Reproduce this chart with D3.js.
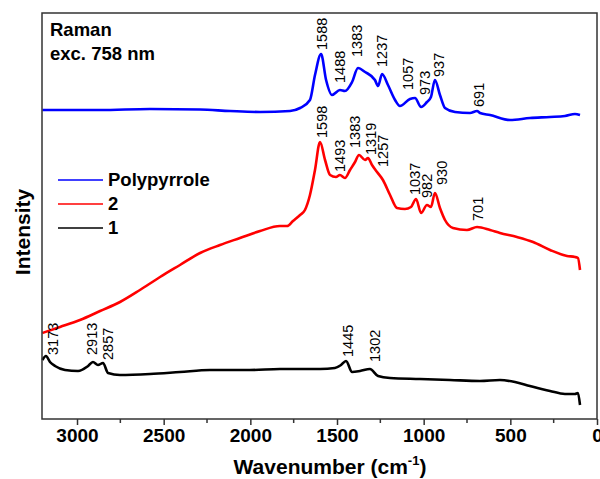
<!DOCTYPE html>
<html>
<head>
<meta charset="utf-8">
<script src="https://cdn.jsdelivr.net/npm/d3@7"></script>
<style>
  body { margin: 0; background: #fff; }
  text { font-family: Arial, "Liberation Sans", sans-serif; }
</style>
</head>
<body>
<svg id="chart" width="600" height="479"></svg>
<script>
// Spectra: [wavenumber cm-1, intensity (a.u.)]
var polypyrrole = [
  [3200,309],[2867,309],[2579,310],[2290,309.5],[2117,308],[1944,307],[1771,308],
  [1713,311],[1656,319],[1627,344],[1592,365],[1563,339],[1529,324],[1483,329],
  [1454,328],[1413,337],[1379,351],[1338,347],[1281,339],[1263,333],[1240,345],
  [1206,334],[1165,319],[1137,313],[1079,320],[1050,321],[1015,312],[981,317],
  [958,322],[935,339],[906,324],[877,311],[819,307],[733,306],[692,308],[675,306],
  [617,304],[502,299],[387,301],[271,302],[185,303],[127,305],[98,304]
];
var sample2 = [
  [3200,86],[3098,92],[2983,99],[2867,108],[2752,117],[2637,129],[2521,142],
  [2406,154],[2290,166],[2175,174],[2060,181],[1944,188],[1829,193],[1788,193],
  [1754,198],[1713,204],[1685,209],[1656,224],[1627,249],[1598,277],[1569,259],
  [1540,244],[1506,242],[1483,244],[1454,241],[1425,249],[1396,257],[1373,264],
  [1338,259],[1321,261],[1298,254],[1269,247],[1235,239],[1194,224],[1154,211],
  [1108,210],[1073,212],[1044,220],[1015,206],[981,214],[958,212],[935,226],
  [906,211],[877,199],[831,191],[750,189],[692,192],[617,189],[560,186],[462,182],
  [369,177],[271,169],[173,163],[127,162],[110,161],[98,149]
];
var sample1 = [
  [3200,59],[3179,63],[3156,57],[3127,53],[3069,49],[2994,48],[2936,53],[2908,57],
  [2879,54],[2850,56],[2821,46],[2752,44],[2579,45],[2406,47],[2233,49],[2002,49],
  [1829,50],[1598,50],[1512,51],[1477,54],[1448,58],[1413,47],[1367,48],[1310,50],
  [1263,43],[1194,41],[1021,40],[848,39],[675,38],[560,39],[473,37],[387,33],
  [271,28],[185,25],[127,25],[110,26],[98,14]
];

// Peak labels: [text, wavenumber where label sits, intensity of label foot]
var peaksBlue = [
  ["1588",1558,369],["1488",1454,336],["1383",1356,362],["1237",1211,352],
  ["1057",1062,329],["973",963,324],["937",883,342],["691",652,312]
];
var peaksRed = [
  ["1598",1558,281],["1493",1454,247],["1383",1367,271],["1319",1275,264],
  ["1257",1206,252],["1037",1021,224],["982",952,221],["930",865,234],["701",658,198]
];
var peaksBlack = [
  ["3173",3110,64],["2913",2885,64],["2857",2792,59],["1445",1408,62],["1302",1252,57]
];

var seriesNames = ["Polypyrrole", "2", "1"];
var seriesColors = ["#0000ff", "#ff0000", "#000000"];
var xTicks = [3000, 2500, 2000, 1500, 1000, 500, 0];
var xMinorTicks = [2750, 2250, 1750, 1250, 750, 250];

var margin = {left: 42, top: 13, right: 3, bottom: 60};
var W = 600, H = 479;

var svg = d3.select('#chart');
var x = d3.scaleLinear().domain([3202, 0]).range([margin.left, W - margin.right]);
var y = d3.scaleLinear().domain([0, 406]).range([H - margin.bottom, margin.top]);

var line = d3.line()
  .x(function(d){ return x(d[0]); })
  .y(function(d){ return y(d[1]); })
  .curve(d3.curveMonotoneX);

var plot = svg.append('g');
[polypyrrole, sample2, sample1].forEach(function(s, i){
  plot.append('path')
    .datum(s)
    .attr('d', line)
    .attr('fill', 'none')
    .attr('stroke', seriesColors[i])
    .attr('stroke-width', 2.6)
    .attr('stroke-linejoin', 'round');
});

// peak labels, rotated
[peaksBlue, peaksRed, peaksBlack].forEach(function(p){
  svg.append('g').selectAll('text')
    .data(p)
    .enter()
    .append('text')
    .text(function(d){ return d[0]; })
    .attr('transform', function(d){
      return 'translate(' + x(d[1]) + ',' + y(d[2]) + ') rotate(-90)';
    })
    .attr('font-size', 14.5)
    .attr('fill', '#000');
});

// frame
svg.append('rect')
  .attr('x', margin.left).attr('y', margin.top)
  .attr('width', W - margin.left - margin.right)
  .attr('height', H - margin.top - margin.bottom)
  .attr('fill', 'none')
  .attr('stroke', '#333')
  .attr('stroke-width', 1.5);

// bottom axis
var xAxis = d3.axisBottom(x)
  .tickValues(xTicks)
  .tickSize(6)
  .tickPadding(4)
  .tickFormat(d3.format('d'));
var gx = svg.append('g')
  .attr('transform', 'translate(0,' + (H - margin.bottom) + ')')
  .call(xAxis);
gx.select('.domain').remove();
gx.selectAll('line').attr('stroke', '#333').attr('stroke-width', 1.5);
gx.selectAll('text')
  .attr('font-size', 19)
  .attr('font-weight', 'bold')
  .attr('fill', '#000')
  .attr('font-family', 'Arial, "Liberation Sans", sans-serif');

svg.append('g').selectAll('line')
  .data(xMinorTicks)
  .enter()
  .append('line')
  .attr('x1', function(d){ return x(d); })
  .attr('x2', function(d){ return x(d); })
  .attr('y1', H - margin.bottom)
  .attr('y2', H - margin.bottom + 4)
  .attr('stroke', '#333')
  .attr('stroke-width', 1.5);

// axis titles
var xt = svg.append('text')
  .attr('x', 330).attr('y', 474)
  .attr('text-anchor', 'middle')
  .attr('font-size', 21)
  .attr('font-weight', 'bold');
xt.append('tspan').text('Wavenumber (cm');
xt.append('tspan').text('-1').attr('font-size', 13).attr('dy', -9);
xt.append('tspan').text(')').attr('dy', 9);

svg.append('text')
  .attr('transform', 'translate(30,232) rotate(-90)')
  .attr('text-anchor', 'middle')
  .attr('font-size', 21)
  .attr('font-weight', 'bold')
  .text('Intensity');

// annotation
svg.append('text').attr('x', 50).attr('y', 36)
  .attr('font-size', 18.5).attr('font-weight', 'bold').text('Raman');
svg.append('text').attr('x', 50).attr('y', 60)
  .attr('font-size', 18.5).attr('font-weight', 'bold').text('exc. 758 nm');

// legend
var legend = svg.append('g');
seriesNames.forEach(function(name, i){
  var ly = 180 + i * 24;
  legend.append('line')
    .attr('x1', 58).attr('x2', 103)
    .attr('y1', ly).attr('y2', ly)
    .attr('stroke', seriesColors[i])
    .attr('stroke-width', 1.5);
  legend.append('text')
    .attr('x', 108).attr('y', ly + 6)
    .attr('font-size', 18.5)
    .attr('font-weight', 'bold')
    .text(name);
});
</script>
</body>
</html>
